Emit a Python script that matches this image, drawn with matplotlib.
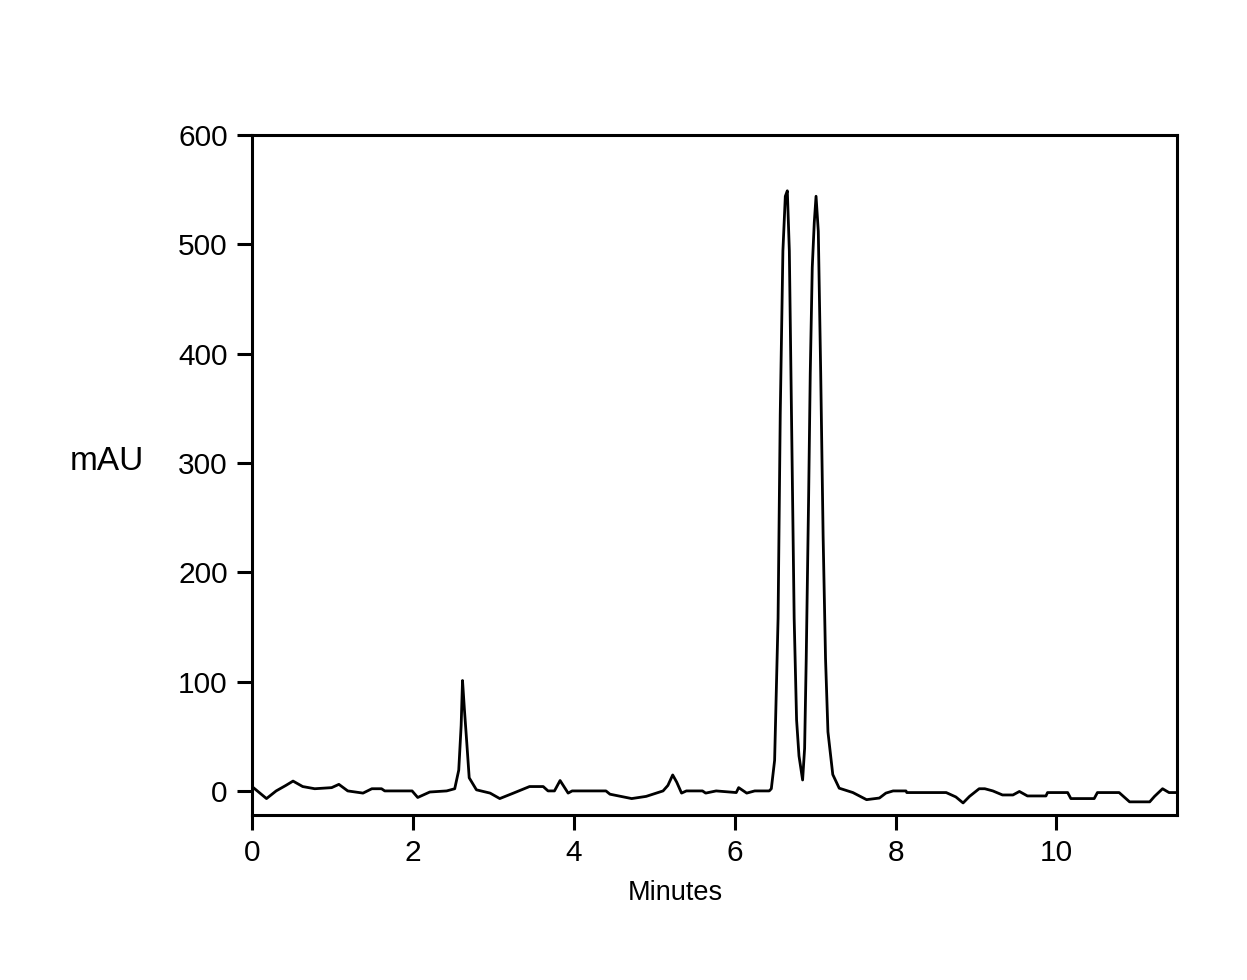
import numpy as np
import matplotlib
matplotlib.use("Agg")
import matplotlib.pyplot as plt

plt.rcParams['font.family'] = ['Liberation Sans', 'DejaVu Sans']

# chromatogram trace (time in minutes, absorbance in mAU)
minutes = [0.00, 0.18, 0.30, 0.42, 0.51, 0.63, 0.78, 0.99, 1.08, 1.19, 1.38, 1.49,
           1.61, 1.65, 1.99, 2.06, 2.21, 2.42, 2.52, 2.57, 2.60, 2.617, 2.64, 2.67,
           2.70, 2.79, 2.96, 3.08, 3.25, 3.45, 3.62, 3.68, 3.76, 3.83, 3.93, 3.98,
           4.40, 4.45, 4.72, 4.90, 5.11, 5.17, 5.23, 5.28, 5.34, 5.40, 5.60, 5.64,
           5.77, 6.02, 6.05, 6.15, 6.25, 6.43, 6.456, 6.497, 6.54, 6.567, 6.60,
           6.63, 6.655, 6.68, 6.70, 6.72, 6.74, 6.77, 6.80, 6.845, 6.87, 6.89,
           6.92, 6.94, 6.965, 6.99, 7.012, 7.04, 7.07, 7.10, 7.13, 7.16, 7.22,
           7.30, 7.47, 7.64, 7.80, 7.88, 7.97, 8.13, 8.14, 8.63, 8.75, 8.84, 8.92,
           9.04, 9.11, 9.21, 9.33, 9.46, 9.54, 9.64, 9.87, 9.89, 10.14, 10.18,
           10.47, 10.51, 10.78, 10.91, 11.16, 11.22, 11.32, 11.40, 11.50]
mau = [4, -7, 0, 5, 9, 4, 2, 3, 6, 0, -2, 2,
       2, 0, 0, -6, -1, 0, 2, 19, 60, 101, 75, 44,
       12, 1, -2, -7, -2, 4, 4, 0, 0, 9.5, -2, 0,
       0, -3, -7, -5, 0, 5, 14.6, 8, -2, 0, 0, -2,
       0, -1.5, 3, -2, 0, 0, 2, 28, 158, 345, 494,
       544, 549, 494, 382, 270, 158, 65, 32, 10, 39, 121,
       270, 382, 479, 520, 544, 512, 382, 233, 121, 54, 15,
       2.5, -1.5, -8, -6.5, -2, 0, 0, -1.5, -1.5, -5.5, -11, -5,
       2, 2, 0, -3.7, -3.7, -0.5, -4.6, -4.6, -1.5, -1.5, -7,
       -7, -1.5, -1.5, -10, -10, -5, 2, -1.5, -1.5]

x_ticks = [0, 2, 4, 6, 8, 10]
y_ticks = [0, 100, 200, 300, 400, 500, 600]

fig = plt.figure(figsize=(12.47, 9.8), dpi=100)
ax = fig.add_axes([0.2021, 0.1684, 0.7418, 0.6938])

ax.plot(minutes, mau, color='black', linewidth=2.0)

ax.set_xlim(0, 11.5)
ax.set_ylim(-22, 600)
ax.set_xticks(x_ticks)
ax.set_yticks(y_ticks)

for s in ax.spines.values():
    s.set_linewidth(2.2)
ax.tick_params(direction='out', length=11, width=2.2, labelsize=21.5, pad=6.5)

# axis titles placed as in the original (not centred on the axes)
fig.text(675 / 1247, 1 - 893 / 980, 'Minutes', fontsize=19.5, ha='center', va='center')
fig.text(107 / 1247, 1 - 462 / 980, 'mAU', fontsize=24, ha='center', va='center')

fig.savefig('out.png', dpi=100)
